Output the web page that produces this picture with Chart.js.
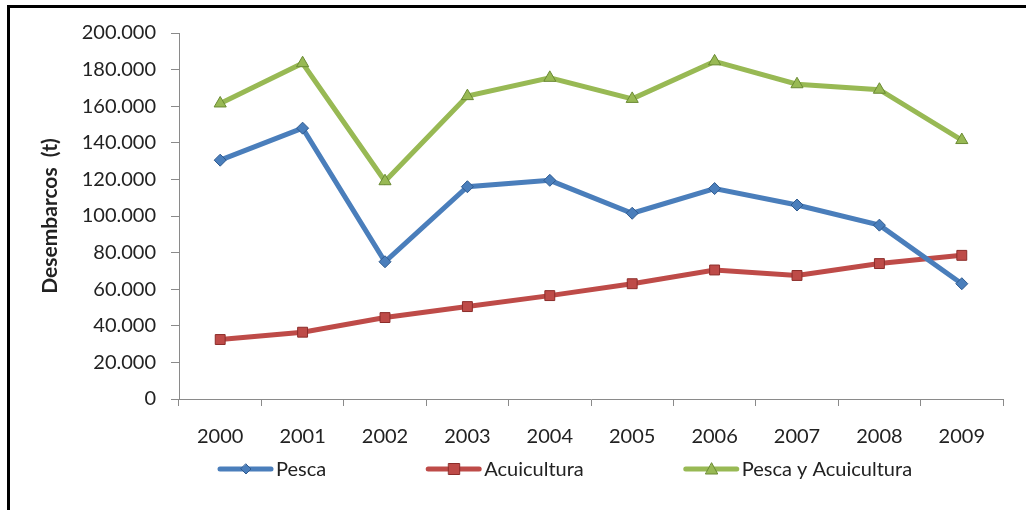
<!DOCTYPE html>
<html>
<head>
<meta charset="utf-8">
<script src="https://cdn.jsdelivr.net/npm/chart.js@4.4.0/dist/chart.umd.min.js"></script>
<style>
    html, body { margin: 0; padding: 0; background: #fff; }
    #wrap { position: relative; width: 1026px; height: 510px; overflow: hidden; }
    #frame { position: absolute; left: 7px; top: 5px; width: 1030px; height: 520px;
             border-top: 3px solid #000; border-left: 3px solid #000; }
    #chart { position: absolute; left: 0; top: 0; }
</style>
</head>
<body>
<div id="wrap">
    <div id="frame"></div>
    <canvas id="chart" width="1026" height="510"></canvas>
</div>
<script>
// Data (toneladas)
const years = ['2000', '2001', '2002', '2003', '2004', '2005', '2006', '2007', '2008', '2009'];
const pesca = [130500, 148000, 75000, 116000, 119500, 101500, 115000, 106000, 95000, 63000];
const acuicultura = [32500, 36500, 44500, 50500, 56500, 63000, 70500, 67500, 74000, 78500];
const pescaYAcuicultura = [161500, 183500, 119000, 165500, 175500, 164000, 184500, 172000, 169000, 141500];

const FONT = 'Lato, "Open Sans", sans-serif';
const TEXT = '#222';

// dot as thousands separator, like the original
function fmt(v) {
    return String(v).replace(/\B(?=(\d{3})+(?!\d))/g, '.');
}

// legend swatch: line with the marker in the middle
function swatch(g, x, y, s) {
    g.save();
    g.strokeStyle = s.color;
    g.lineWidth = 5;
    g.lineCap = 'round';
    g.beginPath(); g.moveTo(x + 2, y); g.lineTo(x + 53, y); g.stroke();
    g.fillStyle = s.color;
    g.strokeStyle = s.dark;
    g.lineWidth = 1;
    const cx = x + 28;
    g.beginPath();
    if (s.shape === 'diamond') {
        g.moveTo(cx, y - 5); g.lineTo(cx + 5, y); g.lineTo(cx, y + 5); g.lineTo(cx - 5, y);
    } else if (s.shape === 'square') {
        g.rect(cx - 5.5, y - 5.5, 11, 11);
    } else {
        g.moveTo(cx, y - 6); g.lineTo(cx + 6, y + 5); g.lineTo(cx - 6, y + 5);
    }
    g.closePath(); g.fill(); g.stroke();
    g.restore();
}

const series = [
    { label: 'Pesca', data: pesca, color: '#4A7EBB', dark: '#2F5A8F', style: 'rectRot', radius: 6, shape: 'diamond' },
    { label: 'Acuicultura', data: acuicultura, color: '#BE4B48', dark: '#8C2D2A', style: 'rect', radius: 7, shape: 'square' },
    { label: 'Pesca y Acuicultura', data: pescaYAcuicultura, color: '#98B954', dark: '#6A8A33', style: 'triangle', radius: 7, shape: 'triangle' }
];

// Excel-like legend: one row below the axis
const excelLegend = {
    id: 'excelLegend',
    afterDraw(chart, args, opts) {
        const g = chart.ctx;
        g.save();
        g.font = '20px ' + FONT;
        g.fillStyle = TEXT;
        g.textBaseline = 'middle';
        let x = opts.start;
        series.forEach(s => {
            swatch(g, x, opts.y, s);
            g.fillText(s.label, x + 58, opts.y + 1);
            x += 58 + g.measureText(s.label).width + opts.gap;
        });
        g.restore();
    }
};

const ctx = document.getElementById('chart').getContext('2d');
new Chart(ctx, {
    type: 'line',
    data: {
        labels: years,
        datasets: series.map(s => ({
            label: s.label,
            data: s.data,
            borderColor: s.color,
            backgroundColor: s.color,
            borderWidth: 5,
            pointStyle: s.style,
            pointRadius: s.radius,
            pointBackgroundColor: s.color,
            pointBorderColor: s.dark,
            pointBorderWidth: 1,
            tension: 0
        }))
    },
    plugins: [excelLegend],
    options: {
        responsive: false,
        animation: false,
        layout: { padding: { top: 33, right: 23, left: 0, bottom: 42 } },
        plugins: {
            tooltip: { enabled: false },
            legend: { display: false },
            excelLegend: { start: 218, gap: 100, y: 469 }
        },
        scales: {
            x: {
                offset: true,
                grid: { offset: true, drawOnChartArea: false, drawTicks: true, tickLength: 7, color: '#8a8a8a' },
                border: { display: true, color: '#8a8a8a', width: 1 },
                ticks: { color: TEXT, padding: 19, font: { family: FONT, size: 20 } }
            },
            y: {
                min: 0,
                max: 200000,
                afterFit: function(scale) { scale.width = 179; },
                grid: { drawOnChartArea: false, drawTicks: true, tickLength: 8, color: '#8a8a8a' },
                border: { display: true, color: '#8a8a8a', width: 1 },
                ticks: {
                    stepSize: 20000,
                    padding: 15,
                    color: TEXT,
                    font: { family: FONT, size: 20 },
                    callback: v => fmt(v)
                },
                title: {
                    display: true,
                    text: 'Desembarcos  (t)',
                    color: TEXT,
                    font: { family: FONT, size: 21, weight: 'bold' },
                    padding: { top: 38, bottom: 0 }
                }
            }
        }
    }
});
</script>
</body>
</html>
